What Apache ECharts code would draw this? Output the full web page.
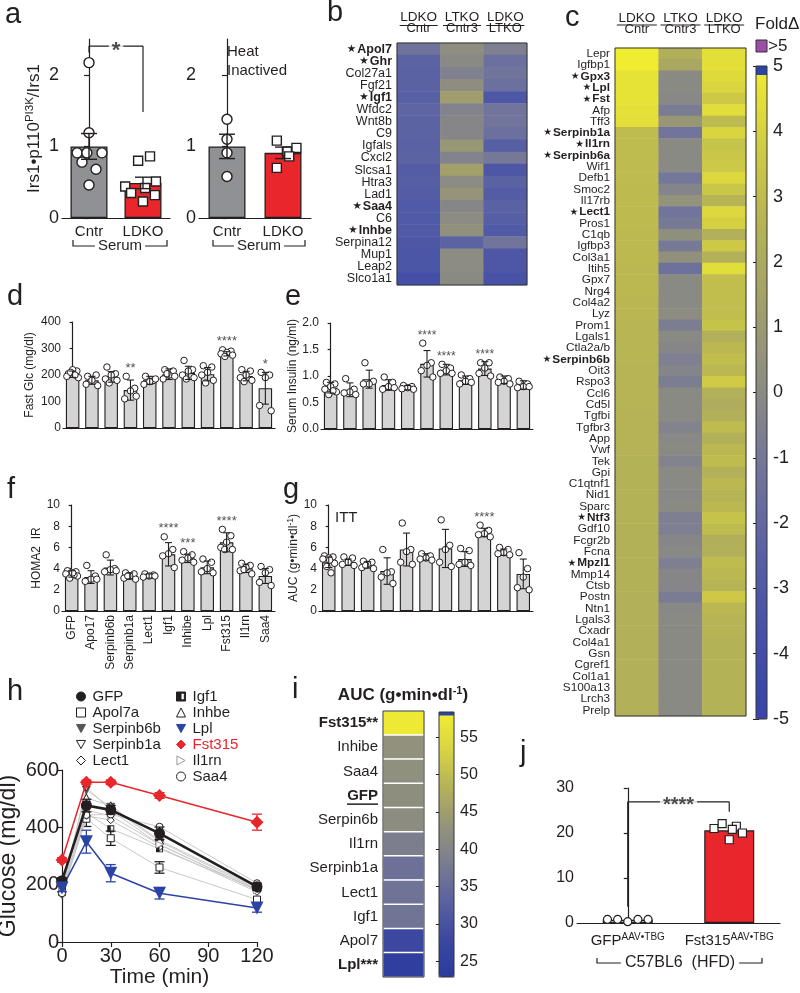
<!DOCTYPE html>
<html>
<head>
<meta charset="utf-8">
<script src="https://cdn.jsdelivr.net/npm/echarts@6.0.0/dist/echarts.min.js"></script>
<style>
html,body{margin:0;padding:0;background:#fff;}
#chart{width:800px;height:993px;}
</style>
</head>
<body>
<div id="chart"></div>
<script>
// ======================= DATA =======================
// panel a
const aCats = ['Cntr', 'LDKO'];
const aTicks = [0, 1, 2];
const a1Mean = [1.0, 0.49];
const a1Sem = [0.18, 0.08];
const a1Cntr = [2.17, 1.19, 0.91, 0.91, 0.91, 0.78, 0.68, 0.46];
const a1Ldko = [0.80, 0.86, 0.44, 0.35, 0.42, 0.51, 0.32, 0.23];
const a2Mean = [1.0, 0.91];
const a2Sem = [0.17, 0.08];
const a2Cntr = [1.38, 1.10, 0.91, 0.58];
const a2Ldko = [1.08, 0.98, 0.93, 0.86, 0.70];

// panel b
const bCols = ['LDKO/Cntr', 'LTKO/Cntr3', 'LDKO/LTKO'];
const bGenes = ['Apol7','Ghr','Col27a1','Fgf21','Igf1','Wfdc2','Wnt8b','C9','Igfals','Cxcl2','Slcsa1','Htra3','Lad1','Saa4','C6','Inhbe','Serpina12','Mup1','Leap2','Slco1a1'];
const bStar = ['Apol7','Ghr','Igf1','Saa4','Inhbe'];
const bCol1 = [-1.3,-2.3,-2.4,-2.4,-2.5,-2.2,-2.3,-2.3,-2.4,-2.3,-2.8,-2.6,-2.8,-3.0,-3.0,-3.0,-3.2,-3.3,-3.3,-3.8];
const bCol2 = [0.2,0,-0.5,0.2,1.2,-0.4,-0.2,-0.2,0.8,-0.4,1.4,0.1,0.6,-0.2,0.1,0.4,-2.3,0.1,0.1,0];
const bCol3 = [-0.6,-1.5,-1.2,-1.5,-3.2,-1.2,-1.2,-1.5,-2.6,-1.0,-3.2,-2.4,-2.8,-2.4,-2.6,-3.0,-1.2,-3.2,-3.2,-3.5];

// panel c
const cCols = ['LDKO/Cntr', 'LTKO/Cntr3', 'LDKO/LTKO'];
const cGenes = ['Lepr','Igfbp1','Gpx3','Lpl','Fst','Afp','Tff3','Serpinb1a','Il1rn','Serpinb6a','Wif1','Defb1','Smoc2','Il17rb','Lect1','Pros1','C1qb','Igfbp3','Col3a1','Itih5','Gpx7','Nrg4','Col4a2','Lyz','Prom1','Lgals1','Ctla2a/b','Serpinb6b','Oit3','Rspo3','Ccl6','Cd5l','Tgfbi','Tgfbr3','App','Vwf','Tek','Gpi','C1qtnf1','Nid1','Sparc','Ntf3','Gdf10','Fcgr2b','Fcna','Mpzl1','Mmp14','Ctsb','Postn','Ntn1','Lgals3','Cxadr','Col4a1','Gsn','Cgref1','Col1a1','S100a13','Lrch3','Prelp'];
const cStar = ['Gpx3','Lpl','Fst','Serpinb1a','Il1rn','Serpinb6a','Lect1','Serpinb6b','Ntf3','Mpzl1'];
const cCol1 = [6,6,4.6,4.6,4.6,4.55,4.5, 3.0,3.0,3.0,2.95,2.95,2.9,2.9,2.9,2.9,2.85,2.85,2.85,2.8,2.8,2.8,2.75,2.75,2.7, 2.65,2.65,2.65,2.6,2.6,2.6,2.6,2.55,2.55,2.55,2.55,2.5,2.5,2.5,2.5,2.5,2.5,2.45,2.45,2.45,2.45,2.45,2.45,2.4,2.4,2.4,2.4,2.4, 2.4,2.4,2.4,2.4,2.4,2.4];
const cCol2 = [2.3,1.8,0,0,-0.1,-0.8,0.8,-1.2,0,0,0,-1.1,-0.3,0.5,-1.2,-0.9,0.3,-0.9,0.4,-1.4,0,0,0,0.1,-0.7, 0,-0.2,-0.6,-0.3,-0.7,0,0,0,-0.4,-0.1,0,-0.4,0,0,-0.1,0,-0.6,-0.6,-0.2,-0.1,-0.6,-0.2,-0.2,-0.8,-0.1,0,0,0, 0,0,0,0,0,0];
const cCol3 = [4.5,4.5,4.3,4.1,3.6,4.4,2.9,4.1,3.3,3.5,3.6,4.2,3.5,2.6,4.2,3.9,2.4,3.6,2.4,4.4,3.1,3.1,3.1,3.1,3.3, 2.3,2.8,3.1,2.8,3.7,2.4,2.2,2.4,3.0,2.4,2.8,3.0,2.4,2.8,2.6,2.8,3.3,3.0,2.3,2.4,3.0,2.8,2.6,3.6,2.8,2.6,2.6,2.5, 2.5,2.5,2.5,2.5,2.5,2.5];
const cBarTicks = [-5,-4,-3,-2,-1,0,1,2,3,4,5];

// panels d-g (shared categories)
const dgCats = ['GFP','Apo17','Serpinb6b','Serpinb1a','Lect1','Igf1','Inhibe','Lpl','Fst315','Il1rn','Saa4'];
const dTicks = [0,100,200,300,400];
const dMean = [203,180,193,143,180,203,208,203,280,196,150];
const dSd = [12,15,20,38,15,20,25,25,8,18,60];
const dPts = [[205,215,220,195,190,210,200],[195,200,180,165,160],[230,205,200,185,180,170],[195,150,140,110,120],[195,180,175,165,185],[220,215,200,185,195,205],[255,220,215,200,190,185],[235,230,210,200,180,170],[295,290,285,280,275,270],[220,215,200,190,180,175],[210,200,190,85,65]];
const dStars = ['','','','**','','','','','****','','*'];

const eTicks = [0,0.5,1.0,1.5,2.0];
const eMean = [0.78,0.74,0.94,0.83,0.78,1.23,1.12,0.92,1.14,0.93,0.83];
const eSd = [0.1,0.13,0.17,0.1,0.04,0.25,0.1,0.08,0.13,0.07,0.08];
const ePts = [[0.88,0.85,0.8,0.75,0.7,0.65,0.72],[0.95,0.75,0.7,0.68,0.65],[1.25,0.9,0.85,0.85],[0.98,0.88,0.8,0.75,0.78],[0.82,0.8,0.78,0.76,0.75],[1.62,1.25,1.2,1.1,0.98],[1.22,1.15,1.1,1.05,1.05],[1.02,0.95,0.9,0.85,0.88],[1.25,1.25,1.15,1.05,1.0],[0.98,0.95,0.9,0.88,0.85],[0.9,0.85,0.8,0.78,0.8]];
const eStars = ['','','','','','****','****','','****','',''];

const fgTicks = [0,2,4,6,8,10];
const fMean = [3.5,3.2,4.1,3.3,3.3,5.35,4.97,4.12,6.48,4.03,3.3];
const fSd = [0.3,0.6,0.7,0.3,0.2,1.1,0.4,0.6,0.9,0.4,0.7];
const fPts = [[3.8,3.7,3.6,3.5,3.3,3.1,3.4,3.6],[4.3,3.3,3.0,2.8,3.0],[5.3,4.0,3.9,3.7,3.8],[3.6,3.5,3.3,3.1,3.0,3.3],[3.5,3.4,3.3,3.2,3.3],[7.0,5.8,5.4,5.2,4.1],[5.6,5.3,5.0,4.8,4.6],[4.9,4.6,4.0,3.7,3.6],[7.7,7.1,6.5,6.0,5.8,5.8],[4.5,4.3,4.1,3.8,3.5,3.9],[4.2,3.9,3.6,2.7,2.4]];
const fStars = ['','','','','','****','***','','****','',''];

const gMean = [4.6,4.6,4.35,3.77,5.8,5.1,5.9,4.9,7.4,5.55,3.5];
const gSd = [0.5,0.3,0.3,1.25,1.55,0.3,1.8,0.7,0.4,0.3,1.4];
const gPts = [[5.2,5.1,5.0,4.9,4.5,4.2,3.6,4.8],[5.1,5.0,4.6,4.4,4.3],[4.7,4.6,4.4,4.1,4.0,4.3],[5.8,3.7,3.6,3.2,2.6],[8.3,5.8,5.6,4.6,4.4],[5.4,5.2,5.0,4.9,4.8],[8.6,6.2,5.8,4.6,4.2],[5.9,5.7,4.6,4.4,4.3],[8.1,7.6,7.3,7.2,7.0],[6.0,5.8,5.5,5.4,5.3],[5.5,4.0,3.2,2.2,2.0]];
const gStars = ['','','','','','','','','****','',''];

// panel h
const hTime = [0, 15, 30, 60, 120];
const hTicksX = [0,30,60,90,120];
const hTicksY = [0,200,400,600];
const hGFP       = [214, 476, 461, 379, 193];
const hApol7a    = [175, 430, 362, 260, 148];
const hSerpinb6b = [185, 530, 470, 350, 185];
const hSerpinb1a = [180, 540, 460, 340, 180];
const hLect1     = [165, 440, 425, 330, 175];
const hIgf1      = [190, 450, 395, 325, 185];
const hInhbe     = [185, 503, 475, 355, 190];
const hLpl       = [188, 350, 240, 170, 119];
const hFst315    = [286, 557, 557, 511, 418];
const hIl1rn     = [180, 460, 440, 340, 180];
const hSaa4      = [170, 443, 445, 402, 205];
const hGFPErr    = [10, 22, 15, 22, 12];
const hLplErr    = [12, 40, 30, 20, 15];
const hFst315Err = [8, 8, 8, 10, 28];
const hApol7aErr = [0, 0, 25, 20, 0];
const hSaa4Err   = [0, 40, 0, 0, 0];

// panel i
const iRows = ['Fst315**','Inhibe','Saa4','GFP','Serpin6b','Il1rn','Serpinb1a','Lect1','Igf1','Apol7','Lpl***'];
const iBold = ['Fst315**','GFP','Lpl***'];
const iAUC = [57.5, 42.6, 42.3, 42.0, 41.6, 38.5, 36.0, 36.3, 36.6, 28.0, 24.6];
const iBarTicks = [25,30,35,40,45,50,55];

// panel j
const jCats = ['GFP^AAV•TBG', 'Fst315^AAV•TBG'];
const jTicks = [0,10,20,30];
const jMean = [0.7, 20.6];
const jGFP = [0.8, 0.8, 0.3, 0.8, 0.8];
const jFst = [21.0, 22.1, 21.5, 18.5, 20.0, 20.8];

// ======================= STYLE / LAYOUT =======================
const FONT = '"Liberation Sans", Arial, Helvetica, sans-serif';
const INK = '#231f20';
const RED = '#e8262b';
const BLUE = '#2c43a6';
const LGRAY = '#c9c9c9';
const CMAP_C = ['#3844a8','#4450a8','#5860a4','#70749c','#8a8a84','#a09e6c','#b4b256','#d0cc44','#f0ec30'];
const CMAP_I = ['#2a3a9e','#3c48a0','#5a62a0','#7a7c90','#94947a','#b4b25a','#d8d444','#f2ee30'];
const SYM_DOWN = 'path://M0,0L10,0L5,9Z';
const SYM_RIGHT = 'path://M0,0L9,5L0,10Z';
const SYM_HALF = 'path://M0,0L10,0L10,10L0,10Z M5,1.3L5,8.7L8.7,8.7L8.7,1.3Z';

const JIT_A1C = [0, 0, -0.22, -0.04, 0.24, -0.13, 0.13, 0];
const JIT_A1L = [-0.09, 0.13, -0.33, -0.22, 0.04, 0.24, 0.22, 0];
const JIT_A2C = [0, 0, 0, 0];
const JIT_A2L = [-0.11, 0.24, 0.07, 0.11, -0.11];
const JIT_BAR = [-0.22, 0.22, 0, -0.3, 0.3, -0.1, 0.12, 0.05];
const JIT_J0 = [-0.2, -0.1, 0, 0.1, 0.2];
const JIT_J1 = [-0.15, -0.07, 0.07, 0, 0.13, 0.03];

const L = {
  a1: {left:62, top:39, width:108, height:179},
  a2: {left:199, top:39, width:112, height:179},
  b: {left:397, top:43, width:130, height:242},
  c: {left:615, top:48, width:131, height:668},
  cbar: {left:756, top:66, width:11, height:653},
  d: {left:63, top:322, width:212, height:106},
  e: {left:321, top:323, width:212, height:106},
  f: {left:62, top:505, width:213, height:106},
  g: {left:319, top:505, width:214, height:106},
  h: {left:62, top:770, width:195, height:172},
  i: {left:383, top:711, width:41, height:266},
  ibar: {left:439, top:712, width:15, height:265},
  j: {left:577, top:788, width:203, height:135}
};

// ======================= BUILD =======================
const grids = [], xAxes = [], yAxes = [], series = [], graphics = [];
function grid(r) { grids.push({left:r.left, top:r.top, width:r.width, height:r.height, containLabel:false, outerBoundsMode:'none', show:false}); return grids.length - 1; }
function xa(o) { xAxes.push(o); return xAxes.length - 1; }
function ya(o) { yAxes.push(o); return yAxes.length - 1; }
const lineSt = {color: INK, width: 1.2};

function supRich(fs, sfs, lh, weight) {
  return {
    n: {fontSize: fs, fontFamily: FONT, color: INK, lineHeight: lh, fontWeight: weight || 'normal'},
    s: {fontSize: sfs, fontFamily: FONT, color: INK, lineHeight: sfs, verticalAlign: 'top', fontWeight: weight || 'normal'}
  };
}

function errRender(capHalf, color, lw) {
  return function (params, api) {
    const e = api.value(2);
    if (!e) return null;
    const x = api.value(0), m = api.value(1);
    const p1 = api.coord([x, m + e]), p2 = api.coord([x, m - e]);
    const st = {stroke: color, lineWidth: lw, fill: null};
    return {type: 'group', children: [
      {type: 'line', shape: {x1: p1[0], y1: p1[1], x2: p2[0], y2: p2[1]}, style: st},
      {type: 'line', shape: {x1: p1[0] - capHalf, y1: p1[1], x2: p1[0] + capHalf, y2: p1[1]}, style: st},
      {type: 'line', shape: {x1: p2[0] - capHalf, y1: p2[1], x2: p2[0] + capHalf, y2: p2[1]}, style: st}
    ]};
  };
}

function barPanel(p) {
  const n = p.cats.length;
  const gi = grid(p.rect);
  const xc = xa({type: 'category', gridIndex: gi, data: p.cats,
    axisLine: {show: true, onZero: false, lineStyle: lineSt}, axisTick: {show: false}, splitLine: {show: false},
    axisLabel: p.catLabel ? Object.assign({show: true, interval: 0, color: INK, fontFamily: FONT}, p.catLabel) : {show: false}});
  const xv = xa({type: 'value', gridIndex: gi, min: -0.5, max: n - 0.5, show: false});
  const yi = ya({type: 'value', gridIndex: gi, min: 0, max: p.ymax,
    axisLine: {show: true, lineStyle: lineSt},
    axisTick: {show: true, length: p.tickLen || 4, lineStyle: lineSt, customValues: p.yTicks},
    axisLabel: {show: true, fontSize: p.yfs, color: INK, fontFamily: FONT, margin: p.yMargin || 3, customValues: p.yTicks, formatter: p.yfmt},
    splitLine: {show: false},
    name: p.yName || '', nameLocation: 'middle', nameGap: p.yGap || 20, nameRotate: 90,
    nameTextStyle: p.yNameStyle || {}});
  series.push({type: 'bar', xAxisIndex: xc, yAxisIndex: yi, barWidth: p.barWidth,
    data: p.mean.map((v, i) => ({value: v, itemStyle: {color: p.colors[i % p.colors.length]}})),
    itemStyle: {borderColor: INK, borderWidth: p.bw || 1.2}, z: 2, silent: true});
  p.groups.forEach(g => {
    series.push({type: 'scatter', xAxisIndex: xv, yAxisIndex: yi, symbol: g.symbol, symbolSize: g.size,
      itemStyle: {color: '#fff', borderColor: INK, borderWidth: g.bw || 1.1, opacity: 1},
      data: g.pts.map((v, j) => [g.x + g.jit[j % g.jit.length], v]), z: 4, silent: true});
  });
  if (p.err) {
    series.push({type: 'custom', xAxisIndex: xv, yAxisIndex: yi, renderItem: errRender(p.cap, INK, p.elw || 1.1),
      data: p.mean.map((m, i) => [i, m, p.err[i]]), z: 5, silent: true});
  }
  if (p.stars) {
    const sd = [];
    p.stars.forEach((s, i) => {
      if (!s) return;
      const top = Math.max(p.mean[i] + (p.err ? p.err[i] : 0), ...(p.groups[i] ? p.groups[i].pts : [0]));
      sd.push({value: [i, top], label: {formatter: s}});
    });
    series.push({type: 'scatter', xAxisIndex: xv, yAxisIndex: yi, symbolSize: 1, itemStyle: {color: 'rgba(0,0,0,0)'},
      label: {show: true, position: 'top', distance: p.starDist || 1, fontSize: p.starFs || 13, color: INK, fontFamily: FONT},
      data: sd, z: 6, silent: true});
  }
  return {gi: gi, xc: xc, xv: xv, yi: yi};
}

function heatPanel(p) {
  const gi = grid(p.rect);
  const starSet = new Set(p.star || []);
  const boldSet = new Set(p.bold || []);
  const xi = xa({type: 'category', gridIndex: gi, data: p.cols, position: 'top',
    axisLine: {show: false}, axisTick: {show: false}, splitLine: {show: false},
    axisLabel: p.header ? {show: true, interval: 0, margin: p.header.margin, color: INK, fontFamily: FONT,
      formatter: v => { const s = v.split('/'); return '{t|' + s[0] + '}\n{u|' + s[1] + '}'; },
      rich: {t: {fontSize: p.header.fs1, lineHeight: p.header.lh, fontFamily: FONT, color: INK},
             u: {fontSize: p.header.fs2, lineHeight: p.header.lh, fontFamily: FONT, color: INK}}} : {show: false}});
  const yi = ya({type: 'category', gridIndex: gi, data: p.rows, inverse: true,
    axisLine: {show: false}, axisTick: {show: false}, splitLine: {show: false},
    axisLabel: {show: true, interval: 0, margin: p.margin, fontSize: p.fs, color: INK, fontFamily: FONT,
      formatter: v => starSet.has(v) ? '{st|★}{b|' + v + '}' : (boldSet.has(v) ? '{b|' + v + '}' : v),
      rich: {st: {fontSize: p.fs - 2, fontFamily: '"DejaVu Sans", sans-serif', color: INK, padding: [0, 1, 0, 0]},
             b: {fontSize: p.fs, fontFamily: FONT, fontWeight: 'bold', color: INK}}}});
  const data = [];
  p.vals.forEach((col, ci) => col.forEach((v, ri) => data.push([ci, ri, v])));
  series.push({type: 'heatmap', xAxisIndex: xi, yAxisIndex: yi, data: data,
    itemStyle: {borderWidth: p.bw || 0, borderColor: '#fff'}, silent: true, progressive: 0});
  return series.length - 1;
}

function colorbarAxis(rect, min, max, ticks, fs, margin) {
  const gi = grid(rect);
  xa({type: 'value', gridIndex: gi, min: 0, max: 1, show: false});
  ya({type: 'value', gridIndex: gi, min: min, max: max, position: 'right',
    axisLine: {show: false}, splitLine: {show: false},
    axisTick: {show: true, inside: true, length: 3, lineStyle: {color: INK, width: 1}, customValues: ticks},
    axisLabel: {show: true, fontSize: fs, color: INK, fontFamily: FONT, margin: margin, customValues: ticks}});
  ya({type: 'value', gridIndex: gi, min: min, max: max, position: 'left',
    axisLine: {show: false}, splitLine: {show: false},
    axisTick: {show: true, inside: true, length: 3, lineStyle: {color: INK, width: 1}, customValues: ticks},
    axisLabel: {show: false}});
}

// ---------- panel a ----------
const pa1 = barPanel({rect: L.a1, cats: aCats, mean: a1Mean, err: a1Sem, colors: ['#8f9194', RED], barWidth: 37, bw: 1.3,
  ymax: 2.5, yTicks: aTicks, yfs: 18, tickLen: 5, catLabel: {fontSize: 15, margin: 6},
  yName: '{n|Irs1•p110}{s|PI3K}{n|/Irs1}', yGap: 18, yNameStyle: {rich: supRich(17, 11.5, 20)},
  groups: [{x: 0, pts: a1Cntr, symbol: 'circle', size: 10, jit: JIT_A1C, bw: 1.4},
           {x: 1, pts: a1Ldko, symbol: 'rect', size: 9, jit: JIT_A1L, bw: 1.4}],
  cap: 8, elw: 1.4});
// significance bracket a1 (data coords)
series.push({type: 'line', xAxisIndex: pa1.xv, yAxisIndex: pa1.yi, data: [[0, 2.31], [0, 2.4], [1, 2.4], [1, 1.48]],
  symbol: 'none', lineStyle: {color: INK, width: 1.2}, z: 6, silent: true});
series.push({type: 'scatter', xAxisIndex: pa1.xv, yAxisIndex: pa1.yi, data: [[0.5, 2.4]], symbolSize: 1, itemStyle: {color: 'rgba(0,0,0,0)'},
  label: {show: true, position: 'inside', formatter: '*', fontSize: 22, fontWeight: 'bold', color: INK, fontFamily: FONT, backgroundColor: '#fff', padding: [0, 3, 0, 3], offset: [0, 5]}, z: 7, silent: true});

barPanel({rect: L.a2, cats: aCats, mean: a2Mean, err: a2Sem, colors: ['#8f9194', RED], barWidth: 37, bw: 1.3,
  ymax: 2.5, yTicks: aTicks, yfs: 18, tickLen: 5, catLabel: {fontSize: 15, margin: 6},
  groups: [{x: 0, pts: a2Cntr, symbol: 'circle', size: 10, jit: JIT_A2C, bw: 1.4},
           {x: 1, pts: a2Ldko, symbol: 'rect', size: 9, jit: JIT_A2L, bw: 1.4}],
  cap: 8, elw: 1.4});

// ---------- panels b, c ----------
const bSer = heatPanel({rect: L.b, cols: bCols, rows: bGenes, vals: [bCol1, bCol2, bCol3], star: bStar, fs: 12.5, margin: 5,
  header: {margin: 9, fs1: 13.5, fs2: 13, lh: 11}});
const cSer = heatPanel({rect: L.c, cols: cCols, rows: cGenes, vals: [cCol1, cCol2, cCol3], star: cStar, fs: 11.8, margin: 5,
  header: {margin: 13, fs1: 13.5, fs2: 13, lh: 11}});
colorbarAxis(L.cbar, -5, 5, cBarTicks, 18, 6);

// ---------- panels d-g ----------
const mkGroups = pts => pts.map((arr, i) => ({x: i, pts: arr, symbol: 'circle', size: 6.5, jit: JIT_BAR, bw: 1}));
const smallName = {fontSize: 12, fontFamily: FONT, color: INK};
barPanel({rect: L.d, cats: dgCats, mean: dMean, err: dSd, colors: ['#d4d4d4'], barWidth: 13.5, bw: 1.1,
  ymax: 400, yTicks: dTicks, yfs: 12, tickLen: 3, yMargin: 2, yName: 'Fast Glc (mg/dl)', yGap: 27, yNameStyle: smallName,
  groups: mkGroups(dPts), cap: 3.5, stars: dStars, starFs: 13});
barPanel({rect: L.e, cats: dgCats, mean: eMean, err: eSd, colors: ['#d4d4d4'], barWidth: 13.5, bw: 1.1,
  ymax: 2.0, yTicks: eTicks, yfs: 12, tickLen: 3, yMargin: 2, yfmt: v => Number(v).toFixed(1),
  yName: 'Serum Insulin (ng/ml)', yGap: 22, yNameStyle: smallName,
  groups: mkGroups(ePts), cap: 3.5, stars: eStars, starFs: 12});
barPanel({rect: L.f, cats: dgCats, mean: fMean, err: fSd, colors: ['#d4d4d4'], barWidth: 13.5, bw: 1.1,
  ymax: 10, yTicks: fgTicks, yfs: 12, tickLen: 3, yMargin: 2,
  catLabel: {fontSize: 12, margin: 4, rotate: 90},
  yName: 'HOMA2  IR', yGap: 19, yNameStyle: smallName,
  groups: mkGroups(fPts), cap: 3.5, stars: fStars, starFs: 13});
barPanel({rect: L.g, cats: dgCats, mean: gMean, err: gSd, colors: ['#d4d4d4'], barWidth: 13.5, bw: 1.1,
  ymax: 10, yTicks: fgTicks, yfs: 12, tickLen: 3, yMargin: 2,
  yName: '{n|AUC (g•min•dl}{s|-1}{n|)}', yGap: 16, yNameStyle: {rich: supRich(12, 8.5, 15)},
  groups: mkGroups(gPts), cap: 3.5, stars: gStars, starFs: 13});

// ---------- panel h ----------
const gh = grid(L.h);
const hx = xa({type: 'value', gridIndex: gh, min: 0, max: 120,
  axisLine: {show: true, lineStyle: lineSt}, axisTick: {show: true, length: 5, lineStyle: lineSt, customValues: hTicksX},
  axisLabel: {fontSize: 20, color: INK, fontFamily: FONT, margin: 4, customValues: hTicksX}, splitLine: {show: false},
  name: 'Time (min)', nameLocation: 'middle', nameGap: 19, nameTextStyle: {fontSize: 21, color: INK, fontFamily: FONT, verticalAlign: 'top'}});
const hy = ya({type: 'value', gridIndex: gh, min: 0, max: 600,
  axisLine: {show: true, lineStyle: lineSt}, axisTick: {show: true, length: 5, lineStyle: lineSt, customValues: hTicksY},
  axisLabel: {fontSize: 20, color: INK, fontFamily: FONT, margin: 3, customValues: hTicksY}, splitLine: {show: false},
  name: 'Glucose (mg/dl)', nameLocation: 'middle', nameGap: 42, nameTextStyle: {fontSize: 23, color: INK, fontFamily: FONT}});

const H_STYLE = [
  {name: 'Apol7a', data: hApol7a, err: hApol7aErr, symbol: 'rect', size: 7, fill: '#fff', stroke: INK, bw: 1, line: LGRAY, lw: 1, z: 3},
  {name: 'Serpinb6b', data: hSerpinb6b, symbol: SYM_DOWN, size: 8, fill: '#555', stroke: '#555', bw: 1, line: LGRAY, lw: 1, z: 3},
  {name: 'Serpinb1a', data: hSerpinb1a, symbol: SYM_DOWN, size: 8, fill: '#fff', stroke: INK, bw: 1, line: LGRAY, lw: 1, z: 3},
  {name: 'Lect1', data: hLect1, symbol: 'diamond', size: 7, fill: '#fff', stroke: INK, bw: 1, line: LGRAY, lw: 1, z: 3},
  {name: 'Igf1', data: hIgf1, symbol: SYM_HALF, size: 7, fill: INK, stroke: INK, bw: 0, line: LGRAY, lw: 1, z: 3},
  {name: 'Inhbe', data: hInhbe, symbol: 'triangle', size: 8, fill: '#fff', stroke: INK, bw: 1, line: LGRAY, lw: 1, z: 3},
  {name: 'Il1rn', data: hIl1rn, symbol: SYM_RIGHT, size: 7, fill: '#fff', stroke: '#999', bw: 1, line: LGRAY, lw: 1, z: 3},
  {name: 'Saa4', data: hSaa4, err: hSaa4Err, symbol: 'circle', size: 7, fill: '#fff', stroke: INK, bw: 1, line: LGRAY, lw: 1, z: 3},
  {name: 'GFP', data: hGFP, err: hGFPErr, symbol: 'circle', size: 11, fill: INK, stroke: INK, bw: 0, line: INK, lw: 2.6, z: 6},
  {name: 'Lpl', data: hLpl, err: hLplErr, symbol: SYM_DOWN, size: 13, fill: BLUE, stroke: BLUE, bw: 0, line: BLUE, lw: 1.5, z: 6},
  {name: 'Fst315', data: hFst315, err: hFst315Err, symbol: 'diamond', size: 13, fill: RED, stroke: RED, bw: 0, line: RED, lw: 1.5, z: 6}
];
const iconOf = {};
H_STYLE.forEach(s => {
  iconOf[s.name] = s.symbol;
  series.push({type: 'line', name: s.name, xAxisIndex: hx, yAxisIndex: hy, data: hTime.map((t, k) => [t, s.data[k]]),
    symbol: s.symbol, symbolSize: s.size, showSymbol: true,
    lineStyle: {color: s.line, width: s.lw}, itemStyle: {color: s.fill, borderColor: s.stroke, borderWidth: s.bw},
    z: s.z, silent: true, clip: false});
  if (s.err) {
    series.push({type: 'custom', xAxisIndex: hx, yAxisIndex: hy, renderItem: errRender(5, s.line === LGRAY ? INK : s.line, 1.3),
      data: hTime.map((t, k) => [t, s.data[k], s.err[k]]), z: s.z - 1, silent: true, clip: false});
  }
});
const legendBase = {orient: 'vertical', itemWidth: 9, itemHeight: 9, itemGap: 1, padding: 0, selectedMode: false,
  textStyle: {fontSize: 15, color: INK, fontFamily: FONT, padding: [0, 0, 0, 2]},
  itemStyle: {borderWidth: 1}};
const legend1 = Object.assign({}, legendBase, {left: 76, top: 689,
  data: ['GFP', 'Apol7a', 'Serpinb6b', 'Serpinb1a', 'Lect1'].map(n => ({name: n, icon: iconOf[n]}))});
const legend2 = Object.assign({}, legendBase, {left: 176, top: 689,
  data: ['Igf1', 'Inhbe', 'Lpl', 'Fst315', 'Il1rn', 'Saa4'].map(n => ({name: n, icon: iconOf[n], textStyle: n === 'Fst315' ? {color: RED} : undefined}))});

// ---------- panel i ----------
const iSer = heatPanel({rect: L.i, cols: ['AUC'], rows: iRows, vals: [iAUC], bold: iBold, fs: 15, margin: 5, bw: 1.5});
colorbarAxis({left: L.ibar.left, top: L.ibar.top, width: L.ibar.width, height: L.ibar.height * (58.4 - 20) / (58.4 - 22.9)}, 20, 58.4, iBarTicks, 16, 6);

// ---------- panel j ----------
const pj = barPanel({rect: L.j, cats: jCats, mean: jMean, colors: ['#fff', RED], barWidth: 50, bw: 1.2,
  ymax: 30, yTicks: jTicks, yfs: 16, tickLen: 4, yMargin: 3,
  catLabel: {fontSize: 15, margin: 9, formatter: v => { const s = v.split('^'); return '{n|' + s[0] + '}{s|' + s[1] + '}'; }, rich: supRich(15, 10, 18)},
  groups: [{x: 0, pts: jGFP, symbol: 'circle', size: 8, jit: JIT_J0, bw: 1.2},
           {x: 1, pts: jFst, symbol: 'rect', size: 8, jit: JIT_J1, bw: 1.2}], cap: 6});
series.push({type: 'line', xAxisIndex: pj.xv, yAxisIndex: pj.yi, data: [[0, 3.6], [0, 26.9], [1, 26.9], [1, 24.7]],
  symbol: 'none', lineStyle: {color: INK, width: 1.2}, z: 6, silent: true});
series.push({type: 'scatter', xAxisIndex: pj.xv, yAxisIndex: pj.yi, data: [[0.5, 26.9]], symbolSize: 1, itemStyle: {color: 'rgba(0,0,0,0)'},
  label: {show: true, position: 'inside', formatter: '****', fontSize: 20, fontWeight: 'bold', color: INK, fontFamily: FONT, backgroundColor: '#fff', padding: [0, 3, 0, 3], offset: [0, 4]}, z: 7, silent: true});

// ======================= DECORATIONS =======================
const z = 100;
function gText(x, y, text, st) {
  graphics.push({type: 'text', x: x, y: y, z: z, silent: true,
    style: Object.assign({text: text, fill: INK, fontFamily: FONT, fontSize: 15, align: 'left', verticalAlign: 'middle'}, st || {})});
}
function gPoly(points, w) { graphics.push({type: 'polyline', z: z, silent: true, shape: {points: points}, style: {stroke: INK, lineWidth: w || 1.2, fill: null}}); }
function gRect(x, y, w, h, st) { graphics.push({type: 'rect', z: z, silent: true, shape: {x: x, y: y, width: w, height: h}, style: st}); }

// panel letters
[['a', 5, 15], ['b', 327, 13], ['c', 565, 18], ['d', 7, 297], ['e', 285, 297], ['f', 7, 490], ['g', 283, 490], ['h', 7, 692], ['i', 292, 690], ['j', 520, 753]]
  .forEach(l => gText(l[1], l[2], l[0], {fontSize: 29}));

// a: heat inactivated + serum brackets
gText(227, 52, 'Heat', {fontSize: 15});
gText(227, 71, 'Inactived', {fontSize: 15});
gPoly([[73, 240], [73, 246], [167, 246], [167, 240]]);
gText(120, 246, 'Serum', {fontSize: 15, align: 'center', backgroundColor: '#fff', padding: [0, 3, 0, 3]});
gPoly([[213, 240], [213, 246], [305, 246], [305, 240]]);
gText(259, 246, 'Serum', {fontSize: 15, align: 'center', backgroundColor: '#fff', padding: [0, 3, 0, 3]});

// b, c header underlines and frames
[[L.b, 25.5, 19], [L.c, 25, 20]].forEach(([r, y, hw]) => {
  for (let k = 0; k < 3; k++) {
    const cx = r.left + (k + 0.5) * r.width / 3;
    gPoly([[cx - hw, y], [cx + hw, y]], 1.2);
  }
  gRect(r.left, r.top, r.width, r.height, {fill: null, stroke: '#333', lineWidth: 1});
});
// c colorbar cap, frame, legend
gRect(L.cbar.left, L.cbar.top, L.cbar.width, 9, {fill: '#2a44a8'});
gRect(L.cbar.left, L.cbar.top, L.cbar.width, L.cbar.height, {fill: null, stroke: '#333', lineWidth: 1});
gText(755, 24, 'FoldΔ', {fontSize: 17});
gRect(756, 40, 11, 12, {fill: '#9b4fa6', stroke: '#333', lineWidth: 1});
gText(768, 46, '>5', {fontSize: 17});

// g: ITT
gText(335, 518, 'ITT', {fontSize: 15});

// i: title, GFP underline, colorbar cap & frame
graphics.push({type: 'text', x: 403, y: 695, z: z, silent: true,
  style: {text: '{n|AUC (g•min•dl}{s|-1}{n|)}', align: 'center', verticalAlign: 'middle', rich: supRich(17, 11, 20, 'bold'), fill: INK}});
{
  const rowH = L.i.height / iRows.length;
  const yU = L.i.top + (iRows.indexOf('GFP') + 0.5) * rowH + 8.5;
  gPoly([[347, yU], [378, yU]], 1.5);
}
gRect(L.i.left, L.i.top, L.i.width, L.i.height, {fill: null, stroke: '#333', lineWidth: 1});
gRect(L.ibar.left, L.ibar.top, L.ibar.width, 3.5, {fill: '#2a44a8'});
gRect(L.ibar.left, L.ibar.top, L.ibar.width, L.ibar.height, {fill: null, stroke: '#333', lineWidth: 1});

// j: strain bracket
gPoly([[597, 958], [597, 963], [762, 963], [762, 958]]);
gText(680, 963, 'C57BL6  (HFD)', {fontSize: 16, align: 'center', backgroundColor: '#fff', padding: [0, 4, 0, 4]});

// ======================= CHART =======================
const chart = echarts.init(document.getElementById('chart'), null, {renderer: 'canvas', width: 800, height: 993});
chart.setOption({
  animation: false,
  backgroundColor: '#fff',
  textStyle: {fontFamily: FONT, color: INK},
  grid: grids, xAxis: xAxes, yAxis: yAxes,
  legend: [legend1, legend2],
  visualMap: [
    {type: 'continuous', min: -5, max: 5, seriesIndex: [bSer, cSer], inRange: {color: CMAP_C}, outOfRange: {color: '#9b4fa6'},
     left: L.cbar.left, top: L.cbar.top, itemWidth: L.cbar.width, itemHeight: L.cbar.height, calculable: false, text: null,
     padding: 0, hoverLink: false, orient: 'vertical', show: true},
    {type: 'continuous', min: 22.9, max: 58.4, seriesIndex: [iSer], inRange: {color: CMAP_I},
     left: L.ibar.left, top: L.ibar.top, itemWidth: L.ibar.width, itemHeight: L.ibar.height, calculable: false, text: null,
     padding: 0, hoverLink: false, orient: 'vertical', show: true}
  ],
  series: series,
  graphic: graphics
});
</script>
</body>
</html>
